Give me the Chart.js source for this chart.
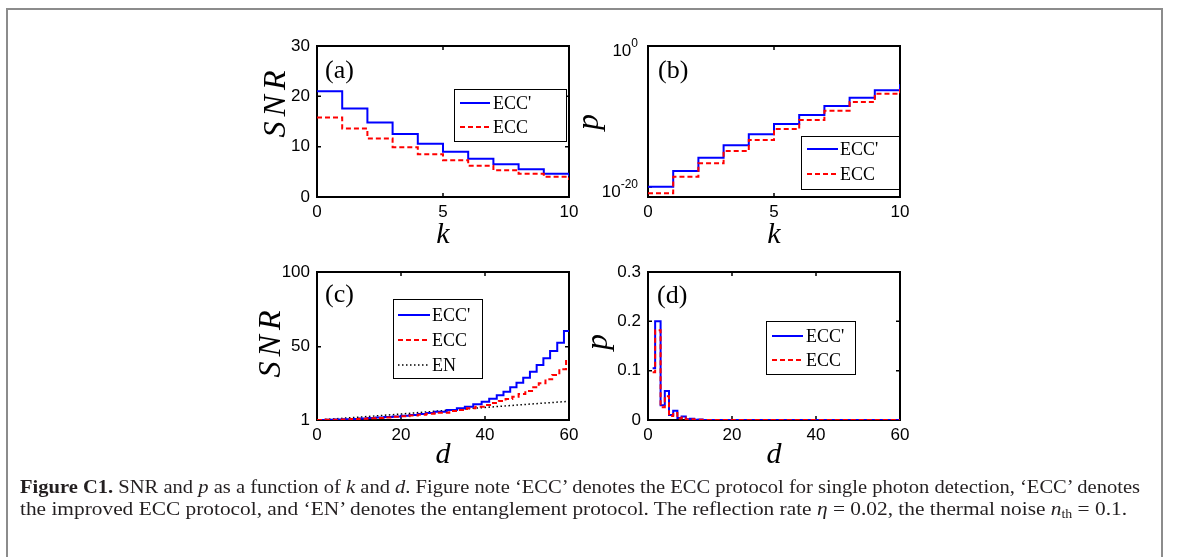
<!DOCTYPE html>
<html>
<head>
<meta charset="utf-8">
<script src="https://cdn.jsdelivr.net/npm/chart.js@4.4.1/dist/chart.umd.min.js"></script>
<style>
  html, body { margin: 0; padding: 0; background: #fff; }
  #page { position: relative; width: 1179px; height: 557px; overflow: hidden; background: #fff; }
  #frame { position: absolute; left: 6px; top: 8px; width: 1157px; height: 600px; border: 2px solid #8c8c8c; box-sizing: border-box; }
  canvas { position: absolute; left: 0; top: 0; }
  .cap { position: absolute; left: 20px; white-space: nowrap; font-family: 'Liberation Serif', serif; font-size: 18.5px; color: #231f20; transform-origin: 0 0; }
  .cap sub { font-size: 12px; vertical-align: -3px; line-height: 0; }
</style>
</head>
<body>
<div id="page">
  <div id="frame"></div>
  <canvas id="chA" width="1179" height="557"></canvas>
  <canvas id="chB" width="1179" height="557"></canvas>
  <canvas id="chC" width="1179" height="557"></canvas>
  <canvas id="chD" width="1179" height="557"></canvas>
  <div class="cap" id="cap1" style="top:477px"><b>Figure C1.</b> SNR and <i>p</i> as a function of <i>k</i> and <i>d</i>. Figure note ‘ECC’ denotes the ECC protocol for single photon detection, ‘ECC’ denotes</div>
  <div class="cap" id="cap2" style="top:499px">the improved ECC protocol, and ‘EN’ denotes the entanglement protocol. The reflection rate <i>η</i> = 0.02, the thermal noise <i>n</i><sub>th</sub> = 0.1.</div>
</div>
<script>
// ---- data ----
const kVals = [0, 1, 2, 3, 4, 5, 6, 7, 8, 9, 10];
const snrEccPrimeK = [21.0, 17.6, 14.8, 12.5, 10.6, 9.0, 7.6, 6.5, 5.5, 4.6, 4.1];
const snrEccK = [15.8, 13.6, 11.6, 9.9, 8.5, 7.3, 6.2, 5.3, 4.6, 4.0, 3.4];

const pEccPrimeK = [1.1e-20, 1.9e-18, 1.4e-16, 8.1e-15, 3.0e-13, 8.7e-12, 1.6e-10, 3.1e-9, 4.7e-8, 5.2e-7, 3.7e-6];
const pEccK = [1.3e-21, 2.9e-19, 2.3e-17, 1.3e-15, 4.7e-14, 1.7e-12, 3.2e-11, 6.6e-10, 1.1e-8, 1.7e-7, 7.9e-7];

const dEccPrimeSnr = [0, 2, 4, 6, 8, 10, 12, 14, 16, 18, 20, 22, 24, 26, 28, 30.9, 33.3, 35.2, 37.2, 39.2, 41.0, 42.8, 44.4, 46.0, 47.5, 49.1, 50.7, 52.3, 53.9, 55.5, 57.2, 58.8, 60];
const snrEccPrimeD = [1.0, 1.15, 1.3, 1.5, 1.75, 2.0, 2.3, 2.6, 3.0, 3.4, 3.9, 4.4, 5.0, 5.7, 6.5, 7.7, 8.8, 9.9, 11.5, 13.2, 15.2, 17.5, 19.9, 22.9, 25.9, 29.3, 33.3, 37.8, 42.3, 47.1, 52.7, 60.5, 60.5];
const dEccSnr = [0, 2, 4, 6, 8, 10, 12, 14, 16, 18, 20, 22, 24, 26, 28, 31.5, 33.8, 35.7, 37.7, 39.7, 41.5, 43.3, 44.9, 46.5, 48.0, 49.6, 51.2, 52.8, 54.4, 56.0, 57.7, 59.3, 60];
const snrEccD = [1.0, 1.1, 1.25, 1.4, 1.6, 1.85, 2.1, 2.4, 2.75, 3.1, 3.5, 4.0, 4.5, 5.1, 5.8, 7.0, 7.7, 8.8, 9.9, 11.0, 12.4, 13.7, 15.0, 16.6, 18.4, 20.4, 22.9, 25.5, 28.2, 31.1, 34.9, 41.1, 41.1];
const dEn = [0, 10, 20, 30, 40, 50, 60];
const snrEnD = [1.0, 2.9, 5.0, 7.3, 9.4, 11.5, 13.5];

const dP = [1.1, 1.7, 3, 4, 5, 6, 7, 8, 9, 10, 11, 12, 13, 60];
const pEccPrimeD = [0.105, 0.200, 0.030, 0.059, 0.010, 0.019, 0.004, 0.007, 0.0015, 0.0025, 0.0005, 0.0008, 0.0002, 0.0];
const pEccD = [0.097, 0.182, 0.026, 0.048, 0.008, 0.014, 0.003, 0.005, 0.001, 0.0015, 0.0003, 0.0004, 0.0001, 0.0];

const kTicks = [0, 5, 10];
const dTicks = [0, 20, 40, 60];
const snrKTicks = [0, 10, 20, 30];
const pKTicks = [1e-20, 1];
const snrDTicks = [1, 50, 100];
const pDTicks = [0, 0.1, 0.2, 0.3];

const W = 1179, H = 557;
const BLUE = '#0000ff', RED = '#ff0000';

function pts(xs, ys) { return xs.map((x, i) => ({ x: x, y: ys[i] })); }

function series(label, xs, ys, color, dash, width, order, stepped) {
  return {
    label: label, data: pts(xs, ys), borderColor: color, borderWidth: width,
    borderDash: dash, pointRadius: 0, fill: false, stepped: stepped, order: order, tension: 0
  };
}

// letters drawn one by one with a small gap, centred on 0
function spaced(ctx, text, gap) {
  const chars = [...text];
  const ws = chars.map(c => ctx.measureText(c).width);
  const tot = ws.reduce((a, b) => a + b, 0) + gap * (chars.length - 1);
  let x = -tot / 2;
  ctx.textAlign = 'left';
  chars.forEach((c, i) => { ctx.fillText(c, x, 0); x += ws[i] + gap; });
}

const deco = {
  id: 'deco',
  beforeDatasetsDraw(chart, args, o) {
    const ctx = chart.ctx, a = chart.chartArea, xs = chart.scales.x, ys = chart.scales.y;
    ctx.save();
    ctx.strokeStyle = '#000';
    ctx.lineWidth = 2;
    ctx.strokeRect(a.left, a.top, a.right - a.left, a.bottom - a.top);
    ctx.lineWidth = 1.5;
    ctx.beginPath();
    xs.ticks.forEach(t => {
      const px = xs.getPixelForValue(t.value);
      ctx.moveTo(px, a.bottom); ctx.lineTo(px, a.bottom - 4);
      ctx.moveTo(px, a.top); ctx.lineTo(px, a.top + 4);
    });
    ys.ticks.forEach(t => {
      const py = ys.getPixelForValue(t.value);
      ctx.moveTo(a.left, py); ctx.lineTo(a.left + 4, py);
      ctx.moveTo(a.right, py); ctx.lineTo(a.right - 4, py);
    });
    ctx.stroke();

    // power-of-ten labels for the log axis
    if (o.powLabels) {
      ys.ticks.forEach(t => {
        const py = ys.getPixelForValue(t.value);
        const ex = String(Math.round(Math.log10(t.value)));
        ctx.fillStyle = '#000';
        ctx.font = '12px "Liberation Sans"';
        ctx.textAlign = 'right';
        ctx.textBaseline = 'alphabetic';
        const right = a.left - 10;
        const ew = ctx.measureText(ex).width;
        ctx.fillText(ex, right, py + 1);
        ctx.font = '17px "Liberation Sans"';
        ctx.fillText('10', right - ew, py + 10);
      });
    }

    ctx.fillStyle = '#000';
    ctx.textBaseline = 'alphabetic';
    // panel tag
    ctx.font = '26px "Liberation Serif"';
    ctx.textAlign = 'left';
    ctx.fillText(o.tag, o.tagX, o.tagY);
    // x title
    ctx.font = 'italic 30px "Liberation Serif"';
    ctx.textAlign = 'center';
    ctx.fillText(o.xTitle, (a.left + a.right) / 2, o.xTitleY);
    // y title
    ctx.save();
    ctx.translate(o.yTitleX, o.yTitleCY);
    ctx.rotate(-Math.PI / 2);
    ctx.font = 'italic 32px "Liberation Serif"';
    spaced(ctx, o.yTitle, 5);
    ctx.restore();
    ctx.restore();
  },
  afterDatasetsDraw(chart, args, o) {
    const ctx = chart.ctx, lg = o.legend;
    const sets = chart.data.datasets;
    ctx.save();
    ctx.fillStyle = '#fff';
    ctx.fillRect(lg.x, lg.y, lg.w, lg.h);
    ctx.strokeStyle = '#000';
    ctx.lineWidth = 1;
    ctx.strokeRect(lg.x + 0.5, lg.y + 0.5, lg.w, lg.h);
    lg.rows.forEach((ry, i) => {
      const ds = sets[i];
      ctx.strokeStyle = ds.borderColor;
      ctx.lineWidth = ds.borderWidth;
      ctx.setLineDash(ds.borderDash || []);
      ctx.beginPath();
      ctx.moveTo(lg.x + lg.l0, ry);
      ctx.lineTo(lg.x + lg.l1, ry);
      ctx.stroke();
      ctx.setLineDash([]);
      ctx.fillStyle = '#000';
      ctx.font = '18px "Liberation Serif"';
      ctx.textAlign = 'left';
      ctx.textBaseline = 'middle';
      ctx.fillText(ds.label, lg.x + lg.tx, ry + 1);
    });
    ctx.restore();
  }
};

function axisX(min, max, ticks) {
  return {
    type: 'linear', min: min, max: max,
    afterBuildTicks: s => { s.ticks = ticks.map(v => ({ value: v })); },
    afterFit: s => { s.height = 30; },
    grid: { display: false, drawTicks: false },
    border: { display: false },
    ticks: { padding: 5, color: '#000', font: { family: 'Liberation Sans', size: 17 }, maxRotation: 0, autoSkip: false, callback: v => String(v) }
  };
}

function axisY(type, min, max, ticks, hideLabels) {
  return {
    type: type, min: min, max: max,
    afterBuildTicks: s => { s.ticks = ticks.map(v => ({ value: v })); },
    afterFit: s => { s.width = 60; },
    grid: { display: false, drawTicks: false },
    border: { display: false },
    ticks: { padding: 7, color: '#000', font: { family: 'Liberation Sans', size: 17 }, autoSkip: false, callback: v => hideLabels ? '' : String(v) }
  };
}

function panel(id, area, datasets, xScale, yScale, deco_opts) {
  return new Chart(document.getElementById(id), {
    type: 'line',
    data: { datasets: datasets },
    options: {
      responsive: false, animation: false, devicePixelRatio: 1,
      layout: { padding: { left: area.l - 60, right: W - area.r, top: area.t, bottom: H - area.b - 30 } },
      plugins: { legend: { display: false }, tooltip: { enabled: false }, deco: deco_opts },
      scales: { x: xScale, y: yScale }
    },
    plugins: [deco]
  });
}

// (a)
panel('chA', { l: 317, r: 569, t: 46, b: 197 }, [
  series("ECC'", kVals, snrEccPrimeK, BLUE, [], 2, 1, 'before'),
  series('ECC', kVals, snrEccK, RED, [5, 3], 2, 0, 'before')
], axisX(0, 10, kTicks), axisY('linear', 0, 30, snrKTicks, false), {
  tag: '(a)', tagX: 325, tagY: 78, xTitle: 'k', xTitleY: 243,
  yTitle: 'SNR', yTitleX: 285, yTitleCY: 104,
  legend: { x: 454, y: 89, w: 112, h: 52, rows: [103, 127], l0: 6, l1: 36, tx: 39 }
});

// (b)
panel('chB', { l: 648, r: 900, t: 46, b: 197 }, [
  series("ECC'", kVals, pEccPrimeK, BLUE, [], 2, 1, 'before'),
  series('ECC', kVals, pEccK, RED, [5, 3], 2, 0, 'before')
], axisX(0, 10, kTicks), axisY('logarithmic', 3.8e-22, 1, pKTicks, true), {
  powLabels: true,
  tag: '(b)', tagX: 658, tagY: 78, xTitle: 'k', xTitleY: 243,
  yTitle: 'p', yTitleX: 598, yTitleCY: 122,
  legend: { x: 801, y: 136, w: 98, h: 53, rows: [149, 174], l0: 6, l1: 37, tx: 39 }
});

// (c)
panel('chC', { l: 317, r: 569, t: 272, b: 420 }, [
  series("ECC'", dEccPrimeSnr, snrEccPrimeD, BLUE, [], 2, 1, 'before'),
  series('ECC', dEccSnr, snrEccD, RED, [5, 3], 2, 0, 'before'),
  series('EN', dEn, snrEnD, '#000', [1.5, 2.5], 1.5, 2, false)
], axisX(0, 60, dTicks), axisY('linear', 1, 100, snrDTicks, false), {
  tag: '(c)', tagX: 325, tagY: 302, xTitle: 'd', xTitleY: 463,
  yTitle: 'SNR', yTitleX: 280, yTitleCY: 344,
  legend: { x: 393, y: 299, w: 89, h: 79, rows: [315, 340, 365], l0: 5, l1: 37, tx: 39 }
});

// (d)
panel('chD', { l: 648, r: 900, t: 272, b: 420 }, [
  series("ECC'", dP, pEccPrimeD, BLUE, [], 2, 1, 'before'),
  series('ECC', dP, pEccD, RED, [5, 3], 2, 0, 'before')
], axisX(0, 60, dTicks), axisY('linear', 0, 0.3, pDTicks, false), {
  tag: '(d)', tagX: 657, tagY: 303, xTitle: 'd', xTitleY: 463,
  yTitle: 'p', yTitleX: 607, yTitleCY: 342,
  legend: { x: 766, y: 321, w: 89, h: 53, rows: [336, 360], l0: 6, l1: 37, tx: 40 }
});

// fit caption lines to the measured widths
[['cap1', 1120], ['cap2', 1107]].forEach(([id, target]) => {
  const el = document.getElementById(id);
  const w = el.getBoundingClientRect().width;
  el.style.transform = 'scaleX(' + (target / w) + ')';
});
</script>
</body>
</html>
